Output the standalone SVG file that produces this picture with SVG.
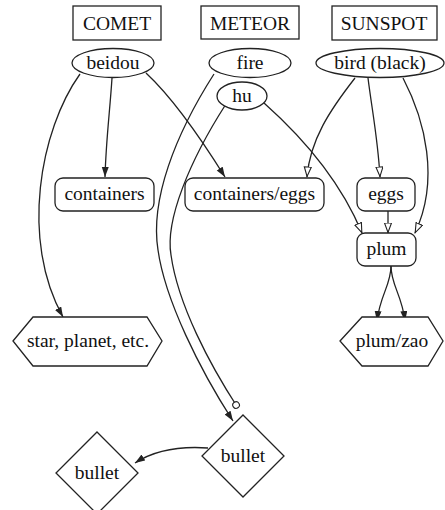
<svg xmlns="http://www.w3.org/2000/svg" width="445" height="510" viewBox="0 0 445 510" font-family="Liberation Serif, Times New Roman, serif">
<style>
.n{fill:#fff;stroke:#222;stroke-width:1.3}
.t{font-size:19.5px;fill:#111;text-anchor:middle}
.e{fill:none;stroke:#222;stroke-width:1.3}
</style>
<defs>
<marker id="fa" markerUnits="userSpaceOnUse" markerWidth="11" markerHeight="8" refX="10" refY="3.5" orient="auto"><path d="M0,0 L10,3.5 L0,7 z" fill="#222"/></marker>
<marker id="oa" markerUnits="userSpaceOnUse" markerWidth="12" markerHeight="9" refX="10.5" refY="4" orient="auto"><path d="M0.5,0.5 L10,4 L0.5,7.5 z" fill="#fff" stroke="#222" stroke-width="1.1"/></marker>
<marker id="od" markerUnits="userSpaceOnUse" markerWidth="9" markerHeight="9" refX="7.5" refY="4" orient="auto"><circle cx="4" cy="4" r="3.3" fill="#fff" stroke="#222" stroke-width="1.1"/></marker>
</defs>
<rect width="445" height="510" fill="#fff"/>
<g id="edges">
<path class="e" d="M112,78 C110,110 106,140 105,177" marker-end="url(#fa)"/>
<path class="e" d="M146,73 C175,100 205,145 225,177" marker-end="url(#fa)"/>
<path class="e" d="M80,74 C40,130 20,240 63,317" marker-end="url(#fa)"/>
<path class="e" d="M214,74 C175,135 150,200 158,250 C165,300 200,370 233,421" marker-end="url(#fa)"/>
<path class="e" d="M226,104 C190,160 165,220 171,255 C178,305 210,365 238,408" marker-end="url(#od)"/>
<path class="e" d="M264,103 C300,135 340,180 362,233" marker-end="url(#oa)"/>
<path class="e" d="M355,78 C330,110 310,140 307,177" marker-end="url(#oa)"/>
<path class="e" d="M368,78 C372,110 378,140 380,177" marker-end="url(#oa)"/>
<path class="e" d="M403,78 C425,120 440,180 415,233" marker-end="url(#oa)"/>
<path class="e" d="M388,211 L388,233" marker-end="url(#oa)"/>
<path class="e" d="M391,266 C391,285 380,295 377,321" marker-end="url(#fa)"/>
<path class="e" d="M391,266 C391,285 402,295 405,321" marker-end="url(#fa)"/>
<path class="e" d="M208,448 C180,446 155,450 135,463" marker-end="url(#fa)"/>
</g>
<g id="comet"><rect class="n" x="73" y="6" width="88" height="34"/><text class="t" x="117" y="30">COMET</text></g>
<g id="meteor"><rect class="n" x="201" y="6" width="98" height="33"/><text class="t" x="250" y="30">METEOR</text></g>
<g id="sunspot"><rect class="n" x="332" y="6" width="105" height="34"/><text class="t" x="384" y="30">SUNSPOT</text></g>
<g id="beidou"><ellipse class="n" cx="113" cy="63" rx="41" ry="14.5"/><text class="t" x="113" y="69">beidou</text></g>
<g id="fire"><ellipse class="n" cx="250" cy="63" rx="41" ry="14.5"/><text class="t" x="250" y="69">fire</text></g>
<g id="hu"><ellipse class="n" cx="242" cy="96" rx="25" ry="14"/><text class="t" x="242" y="102">hu</text></g>
<g id="bird"><ellipse class="n" cx="380" cy="63" rx="64" ry="14.5"/><text class="t" x="380" y="69">bird (black)</text></g>
<g id="containers"><rect class="n" x="55" y="178" width="99" height="33" rx="8"/><text class="t" x="104.5" y="200">containers</text></g>
<g id="containers_eggs"><rect class="n" x="185" y="178" width="139" height="33" rx="8"/><text class="t" x="254.5" y="200">containers/eggs</text></g>
<g id="eggs"><rect class="n" x="357" y="178" width="58" height="33" rx="8"/><text class="t" x="386" y="200">eggs</text></g>
<g id="plum"><rect class="n" x="357" y="233" width="59" height="33" rx="8"/><text class="t" x="386.5" y="255">plum</text></g>
<g id="star"><polygon class="n" points="13,341 33,317 147,317 162,341 147,366 33,366"/><text class="t" x="88" y="347">star, planet, etc.</text></g>
<g id="plumzao"><polygon class="n" points="340,341 362,317 428,317 443,341 428,366 362,366"/><text class="t" x="392" y="347">plum/zao</text></g>
<g id="bullet1"><polygon class="n" points="243,415 284,456 243,497 202,456"/><text class="t" x="243" y="462">bullet</text></g>
<g id="bullet2"><polygon class="n" points="97,432 138,473 97,514 56,473"/><text class="t" x="97" y="479">bullet</text></g>
</svg>
